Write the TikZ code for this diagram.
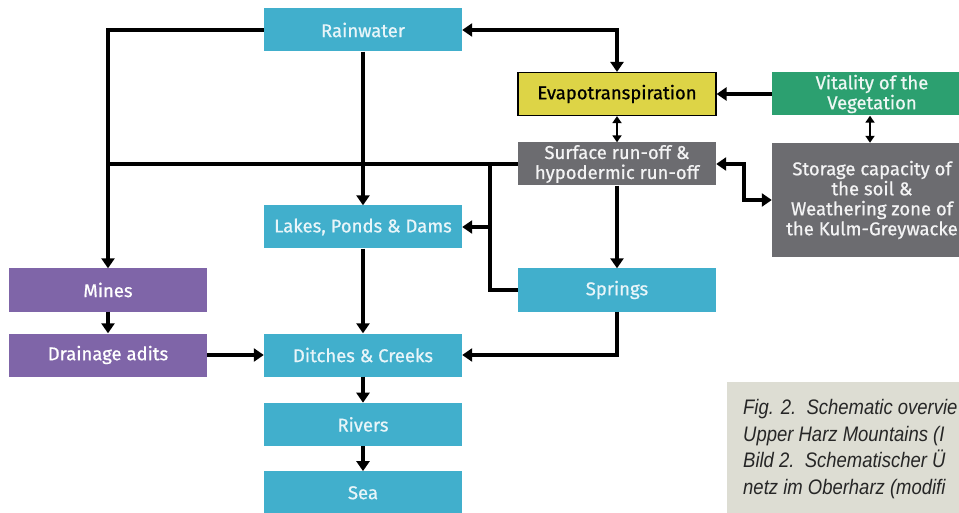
\documentclass[tikz,border=0pt]{standalone}
\usepackage{fontspec}
\setmainfont{Fira Sans}
\newfontfamily\boxfont{Fira Sans}[FakeBold=0.7]
\newfontfamily\capfont{Liberation Sans}[FakeStretch=0.88]
\usetikzlibrary{arrows.meta, positioning}
\definecolor{wasser}{RGB}{65,175,204}
\definecolor{gelb}{RGB}{221,212,70}
\definecolor{gruen}{RGB}{44,160,112}
\definecolor{grau}{RGB}{108,108,112}
\definecolor{lila}{RGB}{127,101,168}
\definecolor{papier}{RGB}{221,221,211}
\tikzstyle{kasten} = [rectangle, inner sep=0pt, minimum width=198pt, minimum height=43pt, align=center, font=\boxfont\fontsize{18.5}{20}\selectfont]
\tikzstyle{blau} = [kasten, fill=wasser, text=white!88!wasser]
\tikzstyle{lila} = [kasten, fill=lila, text=white]
\tikzstyle{grau} = [kasten, fill=grau, text=white!92!grau, minimum width=200pt]
\tikzstyle{gruen} = [kasten, fill=gruen, text=white!92!gruen, minimum width=200pt]
\tikzstyle{gelb} = [kasten, fill=gelb, draw=black, line width=1.2pt, text=black]
\tikzstyle{fluss} = [line width=3.5pt, -{Triangle[width=13pt,length=10pt]}]
\tikzstyle{beide} = [line width=3.5pt, {Triangle[width=13pt,length=10pt]}-{Triangle[width=13pt,length=10pt]}]
\tikzstyle{kurz} = [line width=2.5pt, {Triangle[width=9pt,length=7pt]}-{Triangle[width=9pt,length=7pt]}]
\tikzstyle{linie} = [line width=3.5pt]
\begin{document}
\begin{tikzpicture}[x=1pt, y=-1pt]
	\useasboundingbox (0,0) rectangle (959,513);
	% boxes
	\node[blau] (rain) at (363,30) {Rainwater};
	\node[gelb] (evapo) at (617,94) {Evapotranspiration};
	\node[gruen] (vital) at (872,94) {Vitality of the\\Vegetation};
	\node[grau, minimum width=198pt] (surface) at (617,164) {Surface run-off \&\\hypodermic run-off};
	\node[grau, minimum height=114pt] (storage) at (872,200) {Storage capacity of\\the soil \&\\Weathering zone of\\the Kulm-Greywacke};
	\node[blau] (lakes) at (363,227) {Lakes, Ponds \& Dams};
	\node[lila] (mines) at (108,290) {Mines};
	\node[blau] (springs) at (617,290) {Springs};
	\node[lila] (adits) at (108,355) {Drainage adits};
	\node[blau] (ditches) at (363,355) {Ditches \& Creeks};
	\node[blau, below=26pt of ditches] (rivers) {Rivers};
	\node[blau, below=25pt of rivers] (sea) {Sea};
	% caption
	\fill[papier] (727,382) rectangle (959,513);
	\node[anchor=north west, inner sep=0pt, align=left, text=black!85, font=\capfont\itshape\fontsize{21}{26.7}\selectfont] (caption) at (743,399)
		{Fig. 2.\ \ Schematic overvie\\Upper Harz Mountains (I\\Bild 2.\ \ Schematischer Ü\\netz im Oberharz (modifi};
	% junctions
	\coordinate (joinL) at (surface.west -| mines.north);
	\coordinate (joinS) at (490,164);
	% connectors
	\draw[fluss] (rain.west) -| (mines.north);
	\draw[linie] (surface.west) -- (joinL);
	\draw[fluss] (rain.south) -- (lakes.north);
	\draw[beide] (rain.east) -| (evapo.north);
	\draw[fluss] (vital.west |- evapo.east) -- (evapo.east);
	\draw[kurz] (evapo.south) -- (surface.north);
	\draw[kurz] (vital.south -| 870,0) -- (storage.north -| 870,0);
	\draw[beide] (surface.east) -- ++(28,0) |- (storage.west);
	\draw[linie] (springs.west) -| (joinS);
	\draw[fluss] (joinS |- lakes.east) -- (lakes.east);
	\draw[fluss] (surface.south) -- (springs.north);
	\draw[fluss] (springs.south) |- (ditches.east);
	\draw[fluss] (lakes.south) -- (ditches.north);
	\draw[fluss] (mines.south) -- (adits.north);
	\draw[fluss] (adits.east) -- (ditches.west);
	\draw[fluss] (ditches.south) -- (rivers.north);
	\draw[fluss] (rivers.south) -- (sea.north);
\end{tikzpicture}
\end{document}
